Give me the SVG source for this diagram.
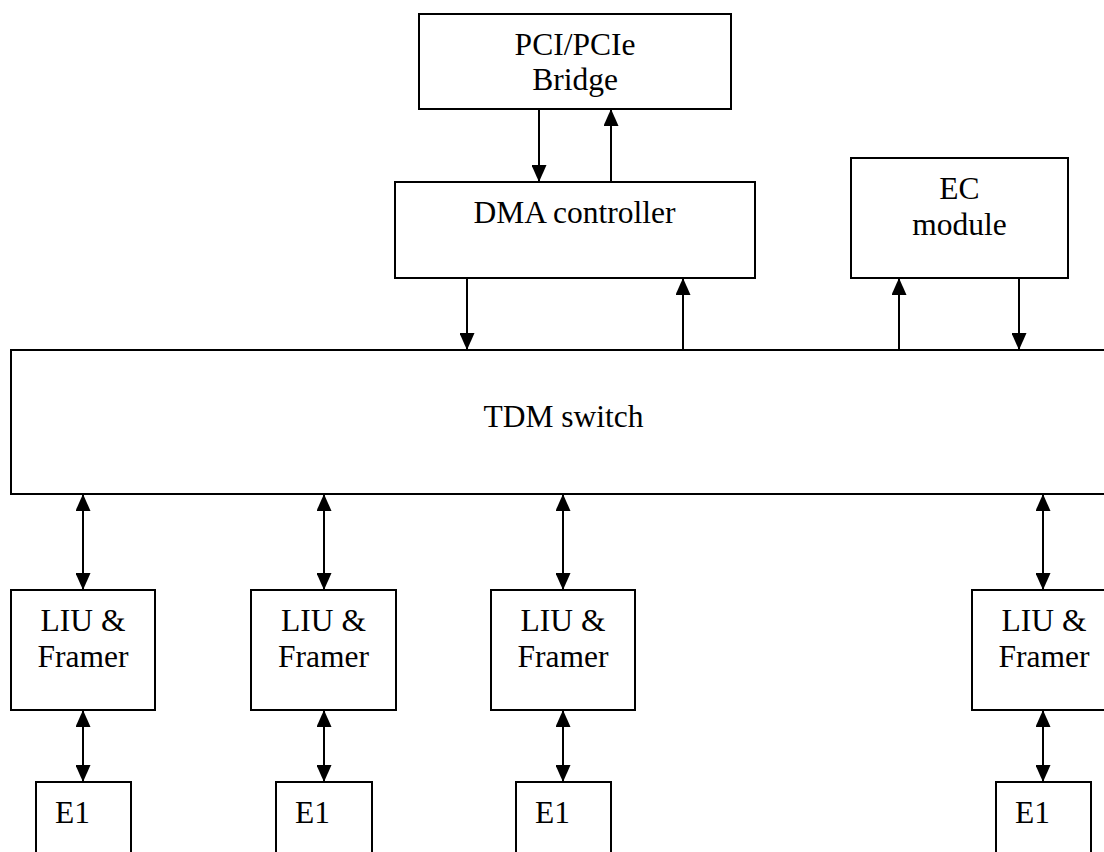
<svg xmlns="http://www.w3.org/2000/svg" width="1104" height="852" viewBox="0 0 1104 852">
<style>
.box{fill:#fff;stroke:#000;stroke-width:2}
.t{font-family:'Liberation Serif','Tinos','Times New Roman','DejaVu Serif',serif;font-size:31.5px;fill:#000}
.c{text-anchor:middle}
.ln{stroke:#000;stroke-width:2;fill:none}
</style>
<defs>
<marker id="ah" viewBox="0 0 17 15" markerWidth="17" markerHeight="15" refX="17" refY="7.5" orient="auto-start-reverse" markerUnits="userSpaceOnUse">
<path d="M0,0 L17,7.5 L0,15 z" fill="#000"/>
</marker>
</defs>
<rect width="1104" height="852" fill="#fff"/>
<g id="bridge"><rect class="box" x="419" y="14" width="312" height="95"/><text class="t c" font-family="Liberation Serif, serif" x="575" y="55">PCI/PCIe</text><text class="t c" font-family="Liberation Serif, serif" x="575" y="90">Bridge</text></g>
<g id="dma"><rect class="box" x="395" y="182" width="360" height="96"/><text class="t c" x="574.5" y="223">DMA controller</text></g>
<g id="ec"><rect class="box" x="851" y="158" width="217" height="120"/><text class="t c" x="959.5" y="199">EC</text><text class="t c" x="959.5" y="235">module</text></g>
<g id="tdm"><rect class="box" x="11" y="350" width="1110" height="144"/><text class="t c" x="563.5" y="427">TDM switch</text></g>
<g id="liu1"><rect class="box" x="11" y="590" width="144" height="120"/><text class="t c" x="83" y="631">LIU &amp;</text><text class="t c" x="83" y="667">Framer</text></g>
<g id="liu2"><rect class="box" x="251" y="590" width="145" height="120"/><text class="t c" x="323.5" y="631">LIU &amp;</text><text class="t c" x="323.5" y="667">Framer</text></g>
<g id="liu3"><rect class="box" x="491" y="590" width="144" height="120"/><text class="t c" x="563" y="631">LIU &amp;</text><text class="t c" x="563" y="667">Framer</text></g>
<g id="liu4"><rect class="box" x="972" y="590" width="144" height="120"/><text class="t c" x="1044" y="631">LIU &amp;</text><text class="t c" x="1044" y="667">Framer</text></g>
<g id="e1a"><rect class="box" x="36" y="782" width="95" height="90"/><text class="t" x="55" y="823">E1</text></g>
<g id="e1b"><rect class="box" x="276" y="782" width="96" height="90"/><text class="t" x="295" y="823">E1</text></g>
<g id="e1c"><rect class="box" x="516" y="782" width="95" height="90"/><text class="t" x="535" y="823">E1</text></g>
<g id="e1d"><rect class="box" x="996" y="782" width="95" height="90"/><text class="t" x="1015" y="823">E1</text></g>
<g id="connectors">
<line class="ln" x1="539" y1="109" x2="539" y2="182" marker-end="url(#ah)"/>
<line class="ln" x1="611" y1="182" x2="611" y2="109" marker-end="url(#ah)"/>
<line class="ln" x1="467" y1="278" x2="467" y2="350" marker-end="url(#ah)"/>
<line class="ln" x1="683" y1="350" x2="683" y2="278" marker-end="url(#ah)"/>
<line class="ln" x1="899" y1="350" x2="899" y2="278" marker-end="url(#ah)"/>
<line class="ln" x1="1019" y1="278" x2="1019" y2="350" marker-end="url(#ah)"/>
<line class="ln" x1="83" y1="494" x2="83" y2="590" marker-start="url(#ah)" marker-end="url(#ah)"/>
<line class="ln" x1="324" y1="494" x2="324" y2="590" marker-start="url(#ah)" marker-end="url(#ah)"/>
<line class="ln" x1="563" y1="494" x2="563" y2="590" marker-start="url(#ah)" marker-end="url(#ah)"/>
<line class="ln" x1="1043" y1="494" x2="1043" y2="590" marker-start="url(#ah)" marker-end="url(#ah)"/>
<line class="ln" x1="83" y1="710" x2="83" y2="782" marker-start="url(#ah)" marker-end="url(#ah)"/>
<line class="ln" x1="324" y1="710" x2="324" y2="782" marker-start="url(#ah)" marker-end="url(#ah)"/>
<line class="ln" x1="563" y1="710" x2="563" y2="782" marker-start="url(#ah)" marker-end="url(#ah)"/>
<line class="ln" x1="1043" y1="710" x2="1043" y2="782" marker-start="url(#ah)" marker-end="url(#ah)"/>
</g>
</svg>
